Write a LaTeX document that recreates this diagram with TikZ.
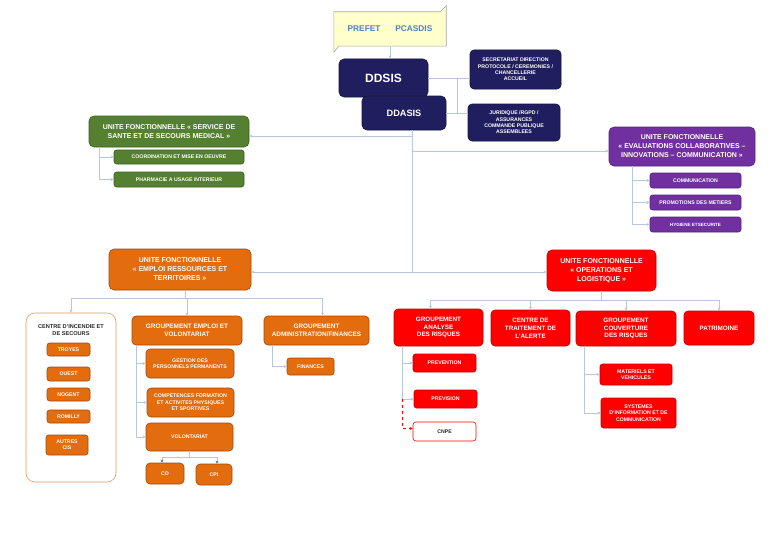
\documentclass[tikz,border=0pt]{standalone}
\usepackage{fontspec}
\setmainfont{Liberation Sans}
\usetikzlibrary{arrows.meta}
\newcommand\myfs[2]{\fontsize{#1}{#2}\selectfont}
\definecolor{navy}{RGB}{32,30,94}
\definecolor{navyd}{RGB}{20,20,60}
\definecolor{grn}{RGB}{84,128,48}
\definecolor{grnd}{RGB}{60,95,35}
\definecolor{purp}{RGB}{112,48,160}
\definecolor{purpd}{RGB}{85,35,125}
\definecolor{orng}{RGB}{226,108,14}
\definecolor{orngd}{RGB}{160,75,15}
\definecolor{rd}{RGB}{255,0,0}
\definecolor{rdd}{RGB}{192,0,0}
\definecolor{linec}{RGB}{184,200,220}
\definecolor{tipc}{RGB}{70,110,170}
\definecolor{pref}{RGB}{255,255,204}
\definecolor{preft}{RGB}{79,129,189}
\definecolor{dtext}{RGB}{40,40,40}
\tikzset{
  bx/.style={inner sep=0pt, align=center, text=white, line width=0.6pt},
  big/.style={bx, rounded corners=5pt, font=\myfs{7}{9}\bfseries},
  mid/.style={bx, rounded corners=4pt, font=\myfs{6.4}{8.4}\bfseries},
  sml/.style={bx, rounded corners=2.5pt, font=\myfs{5.2}{6.3}\bfseries},
  navybox/.style={fill=navy, draw=navyd},
  gbox/.style={fill=grn, draw=grnd},
  pbox/.style={fill=purp, draw=purpd},
  obox/.style={fill=orng, draw=orngd},
  rbox/.style={fill=rd, draw=rdd},
  line/.style={draw=linec, line width=0.7pt},
  conn/.style={line, -{Stealth[length=3.2pt,width=3.2pt]}},
  darrow/.style={line, -{Stealth[length=3pt,width=3pt,color=tipc]}},
}
\begin{document}
\begin{tikzpicture}[x=1pt,y=-1pt]
\useasboundingbox[fill=white] (0,0) rectangle (768,543);
% top
\node[inner sep=0pt, minimum width=112, minimum height=34] (prefet) at (390,29) {};
\draw[fill=pref, draw=gray!70, line width=0.6pt]
  (prefet.north west) -- ([xshift=-6]prefet.north east) -- ([yshift=6]prefet.north east)
  -- (prefet.south east) -- ([xshift=5]prefet.south west) -- ([yshift=-6]prefet.south west) -- cycle;
\node[inner sep=0pt, font=\myfs{8.3}{10}\bfseries, text=preft] (preflabel) at (prefet) {PREFET\hspace{15pt}PCASDIS};
\node[bx, navybox, rounded corners=5pt, minimum width=89, minimum height=38, font=\myfs{12}{14}\bfseries] (ddsis) at (383.5,78) {DDSIS};
\node[bx, navybox, rounded corners=5pt, minimum width=84, minimum height=34, font=\myfs{9.2}{11}\bfseries] (ddasis) at (404,113) {DDASIS};
\node[sml, navybox, rounded corners=4pt, minimum width=91, minimum height=39] (sec) at (515.5,69.5) {SECRETARIAT DIRECTION\\PROTOCOLE / CEREMONIES /\\CHANCELLERIE\\ACCUEIL};
\node[sml, navybox, rounded corners=4pt, minimum width=92, minimum height=37] (jur) at (514,122.5) {JURIDIQUE /RGPD /\\ASSURANCES\\COMMANDE PUBLIQUE\\ASSEMBLEES};
\draw[conn] (prefet.south) -- (prefet.south |- ddsis.north);
\coordinate (jx) at (457,100);
\draw[line] (ddsis.east) -- (ddsis.east -| sec.west);
\draw[line] (ddasis.east) -- (ddasis.east -| jur.west);
\draw[line] (ddsis.east -| jx) -- (ddasis.east -| jx);
% trunk
\coordinate (tA) at (412,136);
\coordinate (tB) at (412,151);
\coordinate (tC) at (412,272);
\draw[line] ([xshift=8]ddasis.south) -- (tC);
% green
\node[big, gbox, minimum width=160, minimum height=31] (ufg) at (169,131.5) {UNITE FONCTIONNELLE « SERVICE DE\\SANTE ET DE SECOURS MEDICAL »};
\node[sml, gbox, minimum width=130, minimum height=14] (coord) at (179,157) {COORDINATION ET MISE EN OEUVRE};
\node[sml, gbox, minimum width=130, minimum height=15] (pharm) at (179,179.5) {PHARMACIE A USAGE INTERIEUR};
\draw[conn] (tA) -- (tA -| ufg.east);
\draw[conn] ([xshift=11]ufg.south west) |- (coord.west);
\draw[conn] ([xshift=11]ufg.south west) |- (pharm.west);
% purple
\node[big, pbox, minimum width=146, minimum height=39] (ufp) at (682,146.5) {UNITE FONCTIONNELLE\\« EVALUATIONS COLLABORATIVES –\\INNOVATIONS – COMMUNICATION »};
\node[sml, pbox, minimum width=91, minimum height=15] (comm) at (695.5,180.5) {COMMUNICATION};
\node[sml, pbox, minimum width=91, minimum height=15] (promo) at (695.5,202.5) {PROMOTIONS DES METIERS};
\node[sml, pbox, minimum width=91, minimum height=15, font=\myfs{4.6}{5.6}\bfseries] (hyg) at (695.5,224.5) {HYGIENE ETSECURITE};
\draw[conn] (tB) -- (tB -| ufp.west);
\draw[conn] ([xshift=24]ufp.south west) |- (comm.west);
\draw[conn] ([xshift=24]ufp.south west) |- (promo.west);
\draw[conn] ([xshift=24]ufp.south west) |- (hyg.west);
% orange
\node[big, obox, minimum width=142, minimum height=41] (ufo) at (180,269.5) {UNITE FONCTIONNELLE\\« EMPLOI RESSOURCES ET\\TERRITOIRES »};
\node[bx, draw=orng!70!white, fill=white, rounded corners=9pt, minimum width=90, minimum height=169] (cis) at (71,397.5) {};
\node[inner sep=0pt, align=center, text=dtext, font=\myfs{5.6}{7}\bfseries] (cist) at (71,330.5) {CENTRE D'INCENDIE ET\\DE SECOURS};
\node[sml, obox, minimum width=43, minimum height=13] (troyes) at (68.5,349.5) {TROYES};
\node[sml, obox, minimum width=43, minimum height=14] (ouest) at (68.5,374) {OUEST};
\node[sml, obox, minimum width=43, minimum height=13] (nogent) at (68.5,394.5) {NOGENT};
\node[sml, obox, minimum width=43, minimum height=13] (romilly) at (68.5,416.5) {ROMILLY};
\node[sml, obox, minimum width=42, minimum height=20] (autres) at (67,445) {AUTRES\\CIS};
\node[mid, obox, minimum width=110, minimum height=29] (gev) at (187,330.5) {GROUPEMENT EMPLOI ET\\VOLONTARIAT};
\node[sml, obox, rounded corners=4pt, minimum width=88, minimum height=29] (gest) at (190,363.5) {GESTION DES\\PERSONNELS PERMANENTS};
\node[sml, obox, rounded corners=4pt, minimum width=87, minimum height=29] (comp) at (190.5,402.5) {COMPETENCES FORMATION\\ET ACTIVITES PHYSIQUES\\ET SPORTIVES};
\node[sml, obox, rounded corners=4pt, minimum width=87, minimum height=28] (vol) at (189.5,437) {VOLONTARIAT};
\node[sml, obox, rounded corners=4pt, minimum width=38, minimum height=21] (cd) at (165,473.5) {CD};
\node[sml, obox, rounded corners=4pt, minimum width=36, minimum height=21] (cpi) at (214,474.5) {CPI};
\node[mid, obox, minimum width=105, minimum height=29] (gaf) at (316.5,330.5) {GROUPEMENT\\ADMINISTRATION/FINANCES};
\node[sml, obox, minimum width=47, minimum height=17] (fin) at (310.5,366.5) {FINANCES};
\draw[conn] (tC) -- (tC -| ufo.east);
\draw[conn] ([xshift=5]ufo.south) -- ++(0,8) -| (cis.north);
\draw[conn] ([xshift=5]ufo.south) -- ++(0,8) -| (gev.north);
\draw[conn] ([xshift=5]ufo.south) -- ++(0,8) -| ([xshift=6]gaf.north);
\draw[conn] ([xshift=5]gev.south west) |- (gest.west);
\draw[conn] ([xshift=5]gev.south west) |- (comp.west);
\draw[conn] ([xshift=5]gev.south west) |- (vol.west);
\draw[darrow] (vol.south) -- ++(0,6) -| ([xshift=-3]cd.north);
\draw[darrow] (vol.south) -- ++(0,6) -| ([xshift=3]cpi.north);
\draw[conn] ([xshift=9]gaf.south west) |- (fin.west);
% red
\node[big, rbox, minimum width=109, minimum height=41] (ufr) at (601.5,270.5) {UNITE FONCTIONNELLE\\« OPERATIONS ET\\LOGISTIQUE »};
\node[mid, rbox, font=\myfs{6.3}{7.8}\bfseries, minimum width=89, minimum height=37] (gar) at (438.5,327.5) {GROUPEMENT\\ANALYSE\\DES RISQUES};
\node[mid, rbox, font=\myfs{6.3}{7.8}\bfseries, minimum width=79, minimum height=36] (cta) at (530.5,328) {CENTRE DE\\TRAITEMENT DE\\L'ALERTE};
\node[mid, rbox, font=\myfs{6.3}{7.8}\bfseries, minimum width=100, minimum height=35] (gcr) at (626,328.5) {GROUPEMENT\\COUVERTURE\\DES RISQUES};
\node[mid, rbox, font=\myfs{6.3}{7.8}\bfseries, minimum width=70, minimum height=34] (patr) at (719,328) {PATRIMOINE};
\node[sml, rbox, minimum width=63, minimum height=18] (prev) at (444.5,363) {PREVENTION};
\node[sml, rbox, minimum width=63, minimum height=18] (previs) at (445.5,399) {PREVISION};
\node[sml, draw=rd, fill=white, text=dtext, rounded corners=3pt, minimum width=63, minimum height=19] (cnpe) at (444.5,431.5) {CNPE};
\node[sml, rbox, minimum width=72, minimum height=21] (mat) at (636,374.5) {MATERIELS ET\\VEHICULES};
\node[sml, rbox, minimum width=75, minimum height=30] (sys) at (638.5,413) {SYSTEMES\\D'INFORMATION ET DE\\COMMUNICATION};
\draw[conn] (tC) -- (tC -| ufr.west);
\draw[conn] (ufr.south) -- ++(0,9) -| ([xshift=-8]gar.north);
\draw[conn] (ufr.south) -- ++(0,9) -| (cta.north);
\draw[conn] (ufr.south) -- ++(0,9) -| (gcr.north);
\draw[conn] (ufr.south) -- ++(0,9) -| (patr.north);
\coordinate (garx) at ([xshift=9]gar.south west);
\draw[conn] (garx) |- (prev.west);
\draw[conn] (garx) |- (previs.west);
\draw[draw=rd, line width=0.6pt, dashed, -{Stealth[length=3.2pt,width=3.2pt]}] (garx |- previs.west) -- ++(0,4) |- ([yshift=3]cnpe.west);
\coordinate (gcrx) at ([xshift=9]gcr.south west);
\draw[conn] (gcrx) |- (mat.west);
\draw[conn] (gcrx) |- (sys.west);
\end{tikzpicture}
\end{document}
